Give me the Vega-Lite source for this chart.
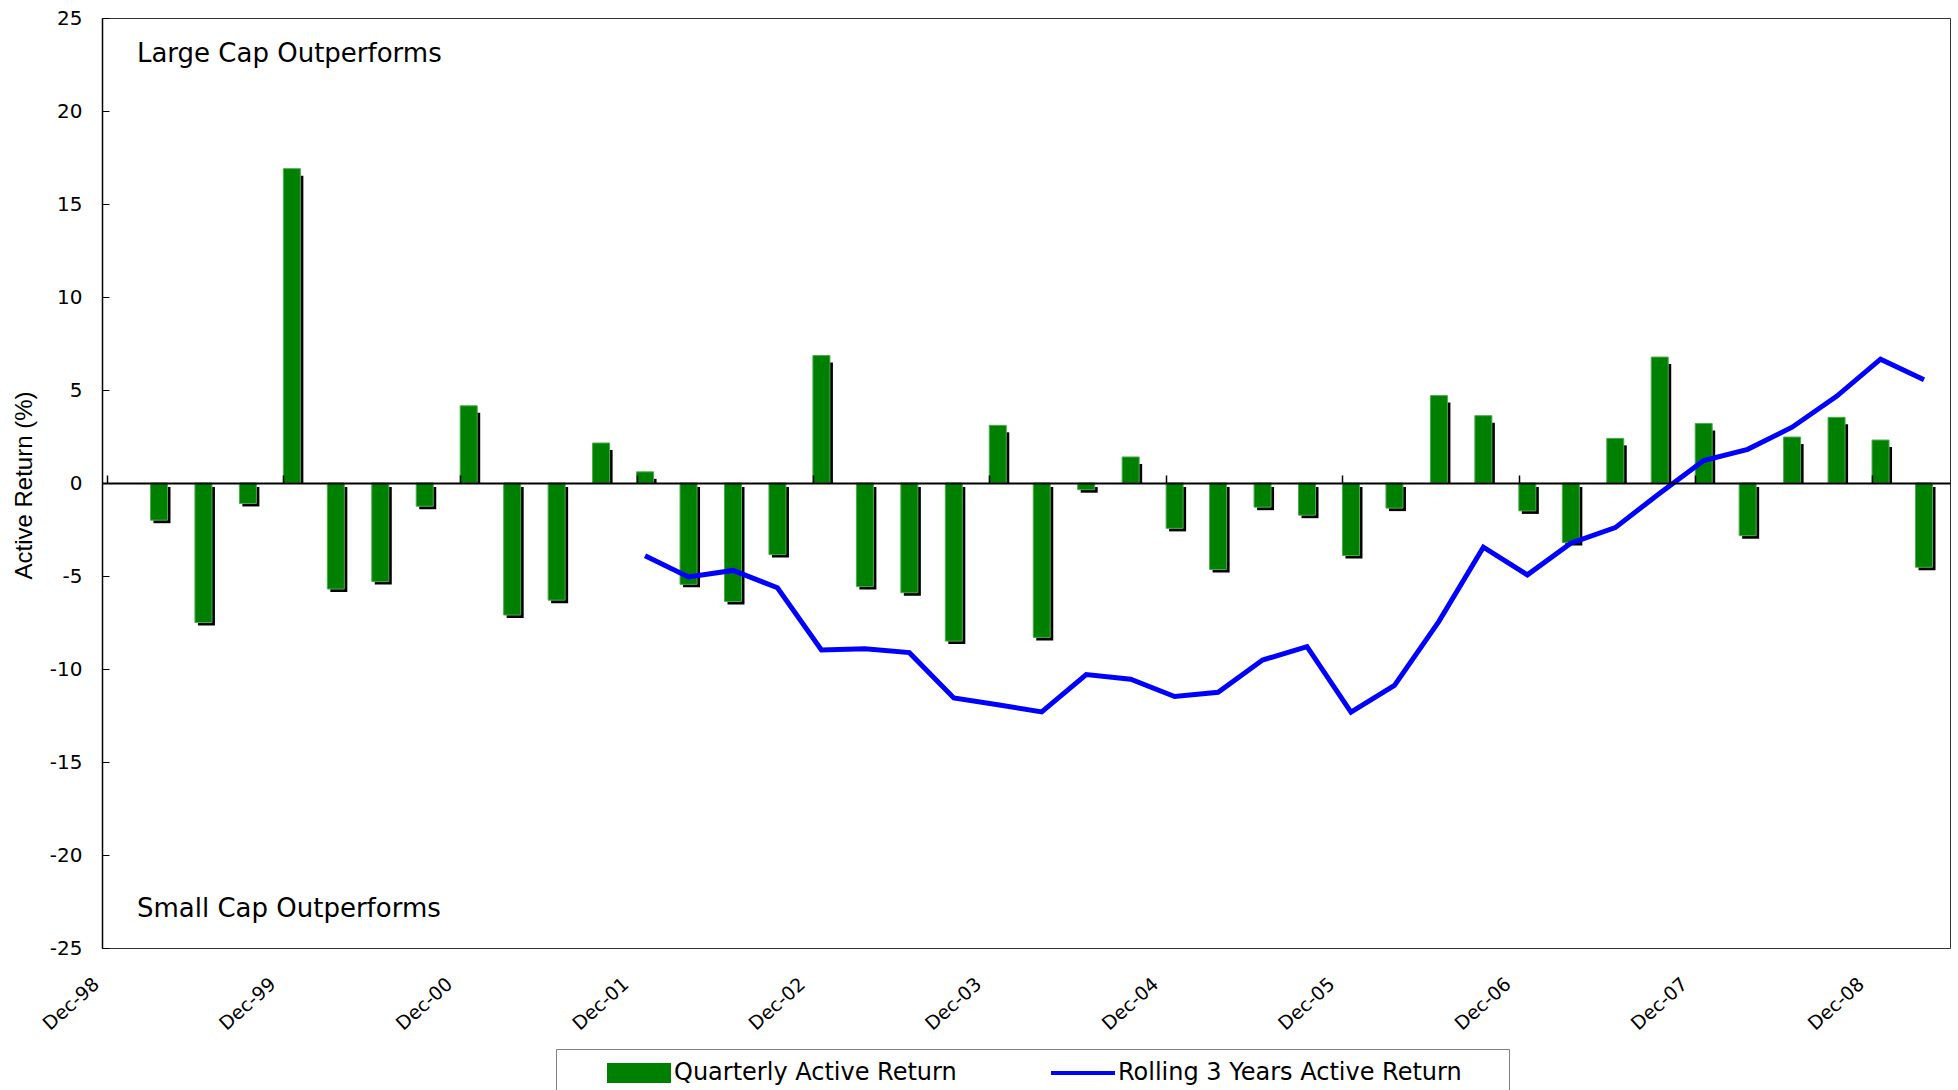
{
  "$schema": "https://vega.github.io/schema/vega-lite/v6.json",
  "width": 1848,
  "height": 930,
  "autosize": {"type": "none"},
  "padding": {"left": 102, "top": 18, "right": 8, "bottom": 142},
  "background": "white",
  "config": {"view": {"stroke": "#333333", "strokeWidth": 1}, "font": "DejaVu Sans"},
  "data": {"values": [
    {"date": "1999-03-01", "qar": -2.0, "roll": null},
    {"date": "1999-06-01", "qar": -7.5, "roll": null},
    {"date": "1999-09-01", "qar": -1.1, "roll": null},
    {"date": "1999-12-01", "qar": 16.9, "roll": null},
    {"date": "2000-03-01", "qar": -5.7, "roll": null},
    {"date": "2000-06-01", "qar": -5.3, "roll": null},
    {"date": "2000-09-01", "qar": -1.25, "roll": null},
    {"date": "2000-12-01", "qar": 4.15, "roll": null},
    {"date": "2001-03-01", "qar": -7.1, "roll": null},
    {"date": "2001-06-01", "qar": -6.3, "roll": null},
    {"date": "2001-09-01", "qar": 2.15, "roll": null},
    {"date": "2001-12-01", "qar": 0.6, "roll": -3.91},
    {"date": "2002-03-01", "qar": -5.45, "roll": -5.05},
    {"date": "2002-06-01", "qar": -6.37, "roll": -4.7},
    {"date": "2002-09-01", "qar": -3.85, "roll": -5.63},
    {"date": "2002-12-01", "qar": 6.85, "roll": -8.98},
    {"date": "2003-03-01", "qar": -5.57, "roll": -8.91},
    {"date": "2003-06-01", "qar": -5.9, "roll": -9.12},
    {"date": "2003-09-01", "qar": -8.5, "roll": -11.56},
    {"date": "2003-12-01", "qar": 3.1, "roll": -11.92},
    {"date": "2004-03-01", "qar": -8.3, "roll": -12.31},
    {"date": "2004-06-01", "qar": -0.36, "roll": -10.3},
    {"date": "2004-09-01", "qar": 1.4, "roll": -10.55},
    {"date": "2004-12-01", "qar": -2.44, "roll": -11.48},
    {"date": "2005-03-01", "qar": -4.65, "roll": -11.25},
    {"date": "2005-06-01", "qar": -1.3, "roll": -9.52},
    {"date": "2005-09-01", "qar": -1.73, "roll": -8.8},
    {"date": "2005-12-01", "qar": -3.9, "roll": -12.32},
    {"date": "2006-03-01", "qar": -1.35, "roll": -10.88},
    {"date": "2006-06-01", "qar": 4.7, "roll": -7.44},
    {"date": "2006-09-01", "qar": 3.62, "roll": -3.45},
    {"date": "2006-12-01", "qar": -1.5, "roll": -4.94},
    {"date": "2007-03-01", "qar": -3.2, "roll": -3.24},
    {"date": "2007-06-01", "qar": 2.4, "roll": -2.4},
    {"date": "2007-09-01", "qar": 6.77, "roll": -0.55},
    {"date": "2007-12-01", "qar": 3.2, "roll": 1.21},
    {"date": "2008-03-01", "qar": -2.83, "roll": 1.81},
    {"date": "2008-06-01", "qar": 2.47, "roll": 3.0},
    {"date": "2008-09-01", "qar": 3.53, "roll": 4.66},
    {"date": "2008-12-01", "qar": 2.31, "roll": 6.66},
    {"date": "2009-03-01", "qar": -4.53, "roll": 5.55}
  ]},
  "resolve": {"axis": {"x": "independent", "y": "independent"}},
  "layer": [
    {
      "transform": [{"filter": "datum.qar > 0"}],
      "mark": {"type": "bar", "color": "#000000", "width": 17, "xOffset": 11.5, "yOffset": 7},
      "encoding": {
        "x": {"field": "date", "type": "temporal", "scale": {"type": "utc", "domain": [{"year": 1998, "month": 12, "date": 1, "utc": true}, {"year": 2009, "month": 5, "date": 1, "utc": true}]}, "axis": null},
        "y": {"field": "qar", "type": "quantitative", "scale": {"domain": [-25, 25], "nice": false, "zero": false}, "axis": null},
        "y2": {"datum": 0}
      }
    },
    {
      "transform": [{"filter": "datum.qar < 0"}],
      "mark": {"type": "bar", "color": "#000000", "width": 17, "xOffset": 11.5, "yOffset": 3, "y2Offset": 4},
      "encoding": {
        "x": {"field": "date", "type": "temporal", "scale": {"type": "utc", "domain": [{"year": 1998, "month": 12, "date": 1, "utc": true}, {"year": 2009, "month": 5, "date": 1, "utc": true}]}, "axis": null},
        "y": {"field": "qar", "type": "quantitative", "scale": {"domain": [-25, 25], "nice": false, "zero": false}, "axis": null},
        "y2": {"datum": 0}
      }
    },
    {
      "mark": {"type": "bar", "width": 17, "xOffset": 8.5, "stroke": "#4daa4d", "strokeWidth": 1},
      "encoding": {
        "x": {"field": "date", "type": "temporal", "scale": {"type": "utc", "domain": [{"year": 1998, "month": 12, "date": 1, "utc": true}, {"year": 2009, "month": 5, "date": 1, "utc": true}]},
          "axis": {"orient": "bottom", "title": null, "domain": false, "ticks": false, "grid": false,
            "values": [{"year": 1998, "month": 12, "date": 1, "utc": true}, {"year": 1999, "month": 12, "date": 1, "utc": true}, {"year": 2000, "month": 12, "date": 1, "utc": true}, {"year": 2001, "month": 12, "date": 1, "utc": true}, {"year": 2002, "month": 12, "date": 1, "utc": true}, {"year": 2003, "month": 12, "date": 1, "utc": true}, {"year": 2004, "month": 12, "date": 1, "utc": true}, {"year": 2005, "month": 12, "date": 1, "utc": true}, {"year": 2006, "month": 12, "date": 1, "utc": true}, {"year": 2007, "month": 12, "date": 1, "utc": true}, {"year": 2008, "month": 12, "date": 1, "utc": true}],
            "labelExpr": "utcFormat(datum.value, '%b-%y')", "labelAngle": -42, "labelAlign": "right", "labelBaseline": "middle", "labelPadding": 33, "labelOffset": -11,
            "labelFont": "DejaVu Sans", "labelFontSize": 19, "labelColor": "#000000", "labelOverlap": false, "labelFlush": false, "labelBound": false}},
        "y": {"field": "qar", "type": "quantitative", "scale": {"domain": [-25, 25], "nice": false, "zero": false},
          "axis": {"title": "Active Return (%)", "values": [-25, -20, -15, -10, -5, 0, 5, 10, 15, 20, 25], "labelExpr": "'' + datum.value", "grid": false,
            "domain": true, "domainColor": "#000000", "domainWidth": 1.5, "ticks": true, "tickColor": "#000000", "tickSize": -7, "tickWidth": 1,
            "labelPadding": 27, "labelFont": "DejaVu Sans", "labelFontSize": 20, "labelColor": "#000000", "labelAlign": "right", "labelBaseline": "middle", "labelFlush": false, "labelOverlap": false,
            "titleFont": "Liberation Sans", "titleFontSize": 24, "titleFontWeight": "normal", "titleColor": "#000000", "titleX": -78, "titleY": 467, "titleAngle": 270, "titleAlign": "center", "titleBaseline": "middle"}},
        "y2": {"datum": 0},
        "color": {"datum": "Quarterly Active Return",
          "scale": {"domain": ["Quarterly Active Return", "Rolling 3 Years Active Return"], "range": ["#008000", "#0000ff"]},
          "legend": {"orient": "none", "legendX": 454, "legendY": 1031, "direction": "horizontal", "columns": 2,
            "title": ".", "titleOrient": "right", "titleOpacity": 0, "titleFontSize": 10, "titlePadding": 31,
            "padding": 12, "strokeColor": "#808080", "fillColor": "#ffffff",
            "symbolSize": 400, "symbolType": "M-3.2,-0.2H3.2V0.2H-3.2Z", "symbolStrokeWidth": 0, "symbolOffset": 59, "labelOffset": 23, "columnPadding": 55,
            "labelFont": "DejaVu Sans", "labelFontSize": 24, "labelColor": "#000000", "labelLimit": 1000}},
        "opacity": {"datum": "Quarterly Active Return", "type": "nominal",
          "scale": {"domain": ["Quarterly Active Return"], "range": [1]},
          "legend": {"orient": "none", "legendX": 454, "legendY": 1031, "direction": "horizontal", "columns": 1, "title": null,
            "padding": 12, "strokeColor": null, "fillColor": null,
            "symbolSize": 400, "symbolType": "M-3.2,-1H3.2V1H-3.2Z", "symbolFillColor": "#008000", "symbolStrokeColor": "#4daa4d", "symbolStrokeWidth": 1, "symbolOffset": 59,
            "labelOffset": 23, "labelFont": "DejaVu Sans", "labelFontSize": 24, "labelOpacity": 0, "labelLimit": 1000}}
      }
    },
    {
      "mark": {"type": "line", "strokeWidth": 5, "xOffset": 8.5},
      "encoding": {
        "x": {"field": "date", "type": "temporal", "scale": {"type": "utc", "domain": [{"year": 1998, "month": 12, "date": 1, "utc": true}, {"year": 2009, "month": 5, "date": 1, "utc": true}]},
          "axis": {"orient": "top", "offset": -465, "labels": false, "title": null, "grid": false, "domain": true, "domainColor": "#000000", "domainWidth": 2,
            "ticks": true, "tickColor": "#000000", "tickWidth": 1.5, "tickSize": 8, "zindex": 1,
            "values": [{"year": 1998, "month": 12, "date": 1, "utc": true}, {"year": 1999, "month": 12, "date": 1, "utc": true}, {"year": 2000, "month": 12, "date": 1, "utc": true}, {"year": 2001, "month": 12, "date": 1, "utc": true}, {"year": 2002, "month": 12, "date": 1, "utc": true}, {"year": 2003, "month": 12, "date": 1, "utc": true}, {"year": 2004, "month": 12, "date": 1, "utc": true}, {"year": 2005, "month": 12, "date": 1, "utc": true}, {"year": 2006, "month": 12, "date": 1, "utc": true}, {"year": 2007, "month": 12, "date": 1, "utc": true}, {"year": 2008, "month": 12, "date": 1, "utc": true}]}},
        "y": {"field": "roll", "type": "quantitative", "scale": {"domain": [-25, 25], "nice": false, "zero": false}, "axis": null},
        "color": {"datum": "Rolling 3 Years Active Return", "scale": {"domain": ["Quarterly Active Return", "Rolling 3 Years Active Return"], "range": ["#008000", "#0000ff"]}, "legend": null}
      }
    },
    {
      "data": {"values": [{"note": "Large Cap Outperforms"}]},
      "mark": {"type": "text", "font": "DejaVu Sans", "fontSize": 26, "align": "left", "baseline": "alphabetic", "color": "#000000"},
      "encoding": {
        "x": {"datum": {"year": 1999, "month": 2, "date": 1, "utc": true}, "type": "temporal", "scale": {"type": "utc", "domain": [{"year": 1998, "month": 12, "date": 1, "utc": true}, {"year": 2009, "month": 5, "date": 1, "utc": true}]}, "axis": null},
        "y": {"datum": 22.65, "type": "quantitative", "scale": {"domain": [-25, 25], "nice": false, "zero": false}, "axis": null},
        "text": {"field": "note"}
      }
    },
    {
      "data": {"values": [{"note": "Small Cap Outperforms"}]},
      "mark": {"type": "text", "font": "DejaVu Sans", "fontSize": 26, "align": "left", "baseline": "alphabetic", "color": "#000000"},
      "encoding": {
        "x": {"datum": {"year": 1999, "month": 2, "date": 1, "utc": true}, "type": "temporal", "scale": {"type": "utc", "domain": [{"year": 1998, "month": 12, "date": 1, "utc": true}, {"year": 2009, "month": 5, "date": 1, "utc": true}]}, "axis": null},
        "y": {"datum": -23.32, "type": "quantitative", "scale": {"domain": [-25, 25], "nice": false, "zero": false}, "axis": null},
        "text": {"field": "note"}
      }
    }
  ]
}
